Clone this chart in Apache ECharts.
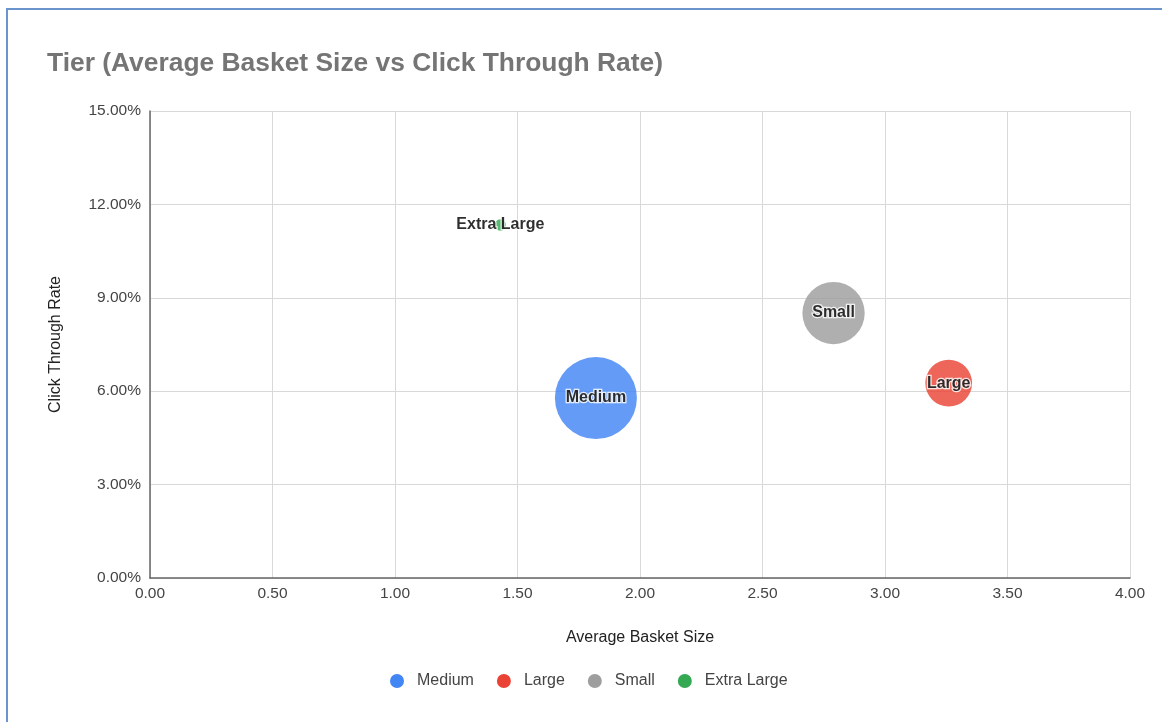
<!DOCTYPE html>
<html>
<head>
<meta charset="utf-8">
<title>Tier (Average Basket Size vs Click Through Rate)</title>
<script src="https://cdn.jsdelivr.net/npm/echarts@6/dist/echarts.min.js"></script>
<style>
  html, body { margin: 0; padding: 0; background: #ffffff; }
  #frame {
    position: absolute; left: 6px; top: 8px; width: 1156px; height: 714px;
    border-top: 2px solid #6b94cc; border-left: 2px solid #6b94cc;
    box-sizing: border-box;
  }
  #chart { position: absolute; left: 0; top: 0; width: 1162px; height: 722px; }
</style>
</head>
<body>
<div id="frame"></div>
<div id="chart"></div>
<script>
// Tier data: average basket size (x), click through rate in % (y), relative bubble weight
const tiers = ['Medium', 'Large', 'Small', 'Extra Large'];
const basketSize = [1.82, 3.26, 2.79, 1.43];
const clickThroughRate = [5.78, 6.26, 8.51, 11.34];
const bubbleWeight = [1.00, 0.57, 0.76, 0.14];
const tierColors = ['#4285f4', '#ea4335', '#9e9e9e', '#34a853'];

const xTicks = { min: 0, max: 4, interval: 0.5 };
const yTicks = { min: 0, max: 15, interval: 3 };

const FONT = '"Liberation Sans", Arial, sans-serif';
const MAX_BUBBLE = 82;

const series = tiers.map((name, i) => ({
  name: name,
  type: 'scatter',
  data: [[basketSize[i], clickThroughRate[i], bubbleWeight[i]]],
  symbolSize: d => MAX_BUBBLE * d[2],
  itemStyle: { color: tierColors[i], opacity: 0.82 },
  label: {
    show: true,
    position: 'inside',
    formatter: name,
    color: '#000000',
    fontFamily: FONT,
    fontWeight: 'bold',
    fontSize: 16,
    textBorderColor: '#ffffff',
    textBorderWidth: 2.5
  },
  emphasis: { disabled: true }
}));

const chart = echarts.init(document.getElementById('chart'), null, { renderer: 'canvas' });
chart.setOption({
  animation: false,
  title: {
    text: 'Tier (Average Basket Size vs Click Through Rate)',
    left: 42,
    top: 46,
    textStyle: { fontFamily: FONT, fontSize: 26.4, fontWeight: 'bold', color: '#757575' }
  },
  grid: { left: 150, right: 32, top: 111, bottom: 144, containLabel: false },
  xAxis: {
    type: 'value',
    min: xTicks.min, max: xTicks.max, interval: xTicks.interval,
    name: 'Average Basket Size',
    nameLocation: 'middle',
    nameGap: 52,
    nameTextStyle: { fontFamily: FONT, fontSize: 16, color: '#222222' },
    axisLine: { show: true, onZero: false, lineStyle: { color: '#666666', width: 1.5 } },
    axisTick: { show: false },
    axisLabel: {
      margin: 8, fontFamily: FONT, fontSize: 15.5, color: '#444444',
      formatter: v => v.toFixed(2)
    },
    splitLine: { show: true, lineStyle: { color: '#d9d9d9', width: 1 } }
  },
  yAxis: {
    type: 'value',
    min: yTicks.min, max: yTicks.max, interval: yTicks.interval,
    name: 'Click Through Rate',
    nameLocation: 'middle',
    nameGap: 86,
    nameTextStyle: { fontFamily: FONT, fontSize: 16, color: '#222222' },
    axisLine: { show: true, onZero: false, lineStyle: { color: '#666666', width: 1.5 } },
    axisTick: { show: false },
    axisLabel: {
      margin: 9, fontFamily: FONT, fontSize: 15.5, color: '#444444',
      formatter: v => v.toFixed(2) + '%'
    },
    splitLine: { show: true, lineStyle: { color: '#d9d9d9', width: 1 } }
  },
  legend: {
    data: tiers,
    left: 385,
    top: 668,
    icon: 'circle',
    itemWidth: 14,
    itemHeight: 14,
    itemGap: 23,
    itemStyle: { opacity: 1 },
    textStyle: { fontFamily: FONT, fontSize: 16, color: '#444444', padding: [0, 0, 0, 8] }
  },
  series: series
});
</script>
</body>
</html>
